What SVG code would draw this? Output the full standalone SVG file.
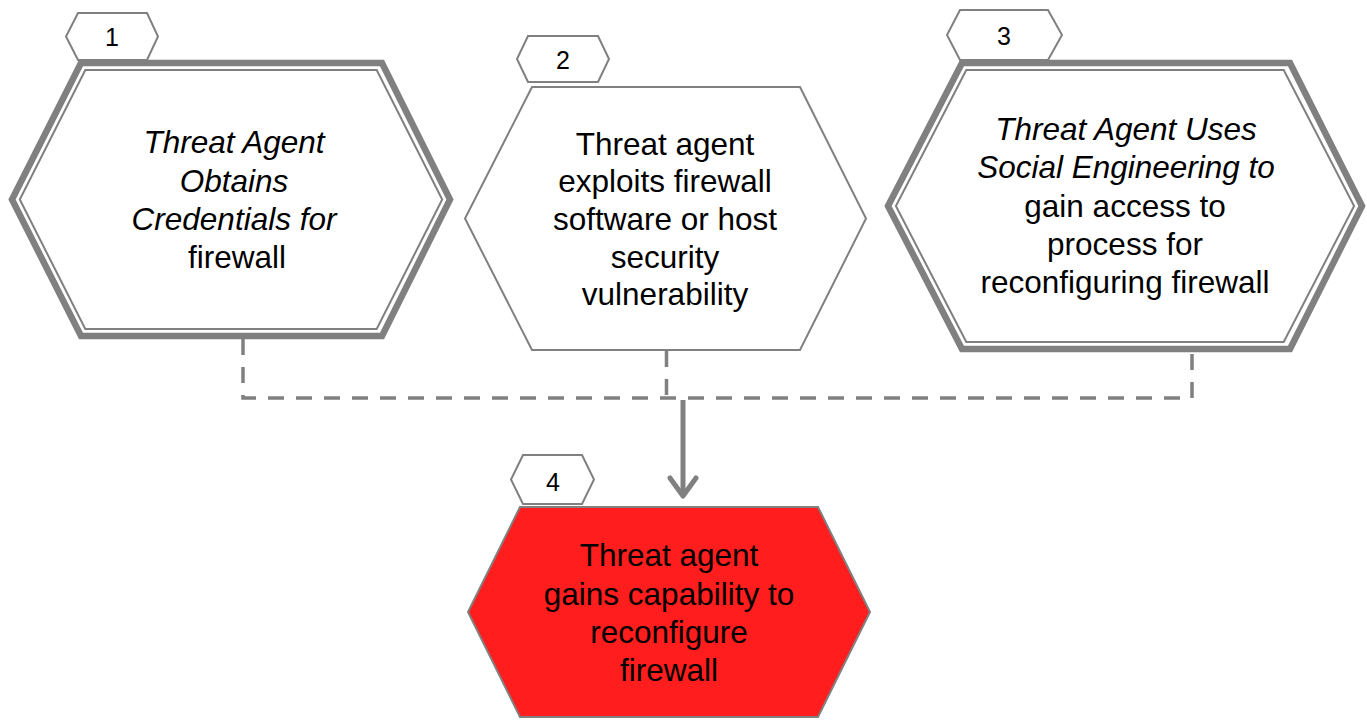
<svg xmlns="http://www.w3.org/2000/svg" width="1367" height="720" viewBox="0 0 1367 720">
<style>
.t{font-family:"Liberation Sans",Arial,sans-serif;font-size:31.5px;fill:#000;text-anchor:middle}
.i{font-style:italic}
.b{font-family:"Liberation Sans",Arial,sans-serif;font-size:25px;fill:#000;text-anchor:middle}
.badge{fill:#fff;stroke:#808080;stroke-width:2}
.outer{fill:#fff;stroke:#808080;stroke-width:6.5;stroke-linejoin:miter}
.inner{fill:none;stroke:#808080;stroke-width:2}
.thin{fill:#fff;stroke:#808080;stroke-width:2}
.dash{fill:none;stroke:#808080;stroke-width:3.5;stroke-dasharray:16 12}
</style>
<rect width="1367" height="720" fill="#fff"/>
<g id="connectors">
<path class="dash" d="M243,339 V398 H1192 V352"/>
<path class="dash" d="M666.5,351 V398"/>
<path d="M683,400 V494" fill="none" stroke="#808080" stroke-width="5"/>
<path d="M670,478 L683,496 L696,478" fill="none" stroke="#808080" stroke-width="5" stroke-linecap="round" stroke-linejoin="round"/>
</g>
<g id="node1">
<polygon class="badge" points="78,13 147,13 158,36.5 147,60 78,60 66,36.5"/>
<text class="b" x="112" y="46">1</text>
<polygon class="outer" points="81,63 382,63 450,199.5 382,336 81,336 12,199.5"/>
<polygon class="inner" points="85.3,70 376.7,70 442.2,199.5 376.7,329 85.3,329 19.8,199.5"/>
<text class="t i" x="234" y="153">Threat Agent</text>
<text class="t i" x="234" y="192">Obtains</text>
<text class="t i" x="234" y="230">Credentials for</text>
<text class="t" x="237" y="268">firewall</text>
</g>
<g id="node2">
<polygon class="badge" points="528,36 598,36 609,59 598,82 528,82 517,59"/>
<text class="b" x="563" y="69">2</text>
<polygon class="thin" points="532,87 800,87 866,218.5 800,350 532,350 465,218.5"/>
<text class="t" x="665" y="155">Threat agent</text>
<text class="t" x="665" y="192">exploits firewall</text>
<text class="t" x="665" y="230">software or host</text>
<text class="t" x="665" y="268">security</text>
<text class="t" x="665" y="305">vulnerability</text>
</g>
<g id="node3">
<polygon class="badge" points="960,10 1048,10 1062,35 1048,60 960,60 947,35"/>
<text class="b" x="1004" y="45">3</text>
<polygon class="outer" points="962,63 1290,63 1362,206 1290,349 962,349 888,206"/>
<polygon class="inner" points="966.3,70 1283.7,70 1354.1,206 1283.7,342 966.3,342 895.9,206"/>
<text class="t i" x="1126" y="140">Threat Agent Uses</text>
<text class="t i" x="1126" y="178">Social Engineering to</text>
<text class="t" x="1125" y="217">gain access to</text>
<text class="t" x="1125" y="255">process for</text>
<text class="t" x="1125" y="293">reconfiguring firewall</text>
</g>
<g id="node4">
<polygon class="badge" points="523,455 582,455 594,479.5 582,504 523,504 511,479.5"/>
<text class="b" x="553" y="491">4</text>
<polygon points="520,507 818,507 870,612 818,717 520,717 468,612" fill="#FF1D1D" stroke="#808080" stroke-width="2"/>
<text class="t" x="669" y="566">Threat agent</text>
<text class="t" x="669" y="605">gains capability to</text>
<text class="t" x="669" y="643">reconfigure</text>
<text class="t" x="669" y="681">firewall</text>
</g>
</svg>
